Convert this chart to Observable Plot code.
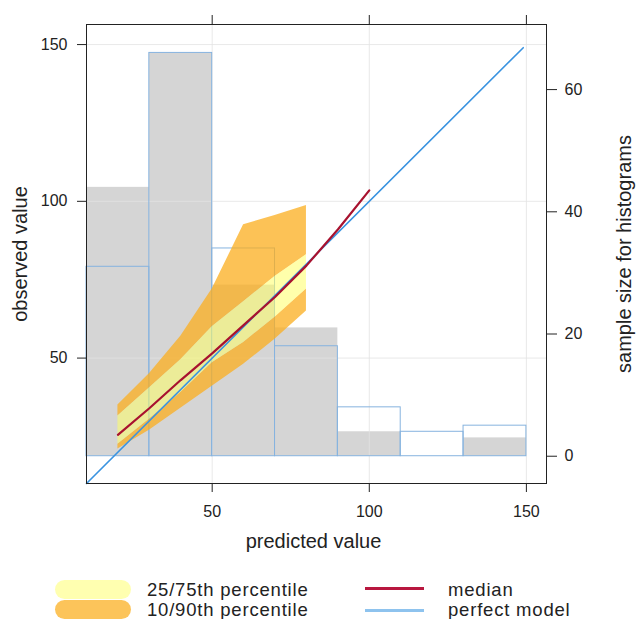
<!DOCTYPE html>
<html><head><meta charset="utf-8">
<script src="https://cdn.jsdelivr.net/npm/d3@7"></script>
<script src="https://cdn.jsdelivr.net/npm/@observablehq/plot@0.6"></script>
<style>
body{margin:0;background:#fff;font-family:"Liberation Sans",Arial,sans-serif;}
#wrap{position:relative;width:637px;height:619px;overflow:hidden;background:#fff}
.leg{position:absolute;font-size:18.5px;letter-spacing:0.8px;color:#222;line-height:17px;height:17px;white-space:nowrap}
.sw{position:absolute;border-radius:10px}
.ln{position:absolute;height:3px}
</style></head><body><div id="wrap"><div id="chart"></div>
<div class="sw" style="left:55px;top:580px;width:76px;height:19px;background:#FFFFB0"></div>
<div class="sw" style="left:55px;top:600px;width:76px;height:19px;background:#FCC45A"></div>
<div class="leg" id="l1" style="left:147px;top:581px"></div>
<div class="leg" id="l2" style="left:147px;top:601px"></div>
<div class="ln" style="left:365px;top:587px;width:59px;background:#B8173F"></div>
<div class="ln" style="left:365px;top:609px;width:59px;height:2.5px;background:#8EC3EE"></div>
<div class="leg" id="l3" style="left:448px;top:581px"></div>
<div class="leg" id="l4" style="left:448px;top:601px"></div>
</div>
<script>
// histogram bins (predicted value) and counts
const binEdges = [10, 30, 50, 70, 90, 110, 130, 150];
const predCounts = [44, 66, 28, 21, 4, 0, 3];   // grey filled histogram
const obsCounts = [31, 66, 34, 18, 8, 4, 5];    // blue outlined histogram

// conditional quantiles
const qX = [20, 30, 40, 50, 60, 70, 80];
const q10 = [21, 27, 34, 41, 48, 56, 65];
const q25 = [22.5, 30.5, 39, 48.5, 55, 63, 72];
const q75 = [31.5, 40.5, 49.5, 60, 68, 76, 83];
const q90 = [35, 45, 57, 72, 92.5, 95.5, 98.7];

const medX = [20, 30, 40, 50, 60, 70, 80, 90, 100];
const q50 = [25.5, 34, 43, 51.5, 60.5, 69.5, 79.5, 91, 103.5];

const perfectX = [10, 149];

const xTicks = [50, 100, 150];
const yTicks = [50, 100, 150];
const countTicks = [0, 20, 40, 60];

const legendLabels = ["25/75th percentile", "10/90th percentile", "median", "perfect model"];
const axisTitles = ["predicted value", "observed value", "sample size for histograms"];

// secondary (count) axis mapped onto the y scale
const c0 = 18.7, cs = 1.949;
const toY = c => c0 + cs * c;
const fromY = y => (y - c0) / cs;

const bins = predCounts.map((n, i) => ({x1: binEdges[i], x2: binEdges[i + 1], pred: n, obs: obsCounts[i]}));
const bands = qX.map((x, i) => ({x, q10: q10[i], q25: q25[i], q75: q75[i], q90: q90[i]}));
const med = medX.map((x, i) => ({x, y: q50[i]}));
const perfect = perfectX.map(v => ({x: v, y: v}));

const orange = "#FBAE1E", yellow = "#FFFF66";

const chart = Plot.plot({
  width: 637, height: 570,
  marginLeft: 86, marginRight: 91, marginTop: 24, marginBottom: 87,
  x: {domain: [10, 156.4]},
  y: {domain: [10, 156.4]},
  style: {fontFamily: "'Liberation Sans', Arial, sans-serif", fontSize: "16px", color: "#222", background: "#fff"},
  marks: [
    Plot.rect(bins, {x1: "x1", x2: "x2", y1: () => toY(0), y2: d => toY(d.pred), fill: "#d5d5d5"}),
    Plot.gridX(xTicks, {stroke: "#e4e4e4", strokeOpacity: 0.8}),
    Plot.gridY(yTicks, {stroke: "#e4e4e4", strokeOpacity: 0.8}),
    Plot.rect(bins, {x1: "x1", x2: "x2", y1: () => toY(0), y2: d => toY(d.obs), fill: "none", stroke: "#86b3df", strokeWidth: 1}),
    Plot.areaY(bands, {x: "x", y1: "q10", y2: "q25", fill: orange, fillOpacity: 0.75}),
    Plot.areaY(bands, {x: "x", y1: "q75", y2: "q90", fill: orange, fillOpacity: 0.75}),
    Plot.areaY(bands, {x: "x", y1: "q25", y2: "q75", fill: yellow, fillOpacity: 0.55}),
    Plot.line(perfect, {x: "x", y: "y", stroke: "#3a93e0", strokeWidth: 1.6}),
    Plot.line(med, {x: "x", y: "y", stroke: "#A8122F", strokeWidth: 2.2}),
    Plot.frame({stroke: "#222", strokeWidth: 1}),
    Plot.axisX(xTicks, {anchor: "bottom", tickSize: 9, tickPadding: 13, label: null, stroke: "#222"}),
    Plot.axisX(xTicks, {anchor: "top", tickSize: 10, tickFormat: () => "", label: null, stroke: "#222"}),
    Plot.axisY(yTicks, {anchor: "left", tickSize: 9, tickPadding: 10, label: null, stroke: "#222"}),
    Plot.axisY(countTicks.map(toY), {anchor: "right", tickSize: 10, tickPadding: 8, label: null, stroke: "#222",
      tickFormat: y => String(Math.round(fromY(y)))}),
    Plot.text([axisTitles[0]], {text: d => d, frameAnchor: "bottom", dy: 64, dx: -3, fontSize: 20, fill: "#222", textAnchor: "middle"}),
    Plot.text([axisTitles[1]], {text: d => d, frameAnchor: "left", dx: -66, rotate: -90, fontSize: 20, fill: "#222", textAnchor: "middle"}),
    Plot.text([axisTitles[2]], {text: d => d, frameAnchor: "right", dx: 78, rotate: -90, fontSize: 20, fill: "#222", textAnchor: "middle"})
  ]
});
document.getElementById("chart").appendChild(chart);
["l1", "l2", "l3", "l4"].forEach((id, i) => document.getElementById(id).textContent = legendLabels[i]);
</script>
</body></html>
